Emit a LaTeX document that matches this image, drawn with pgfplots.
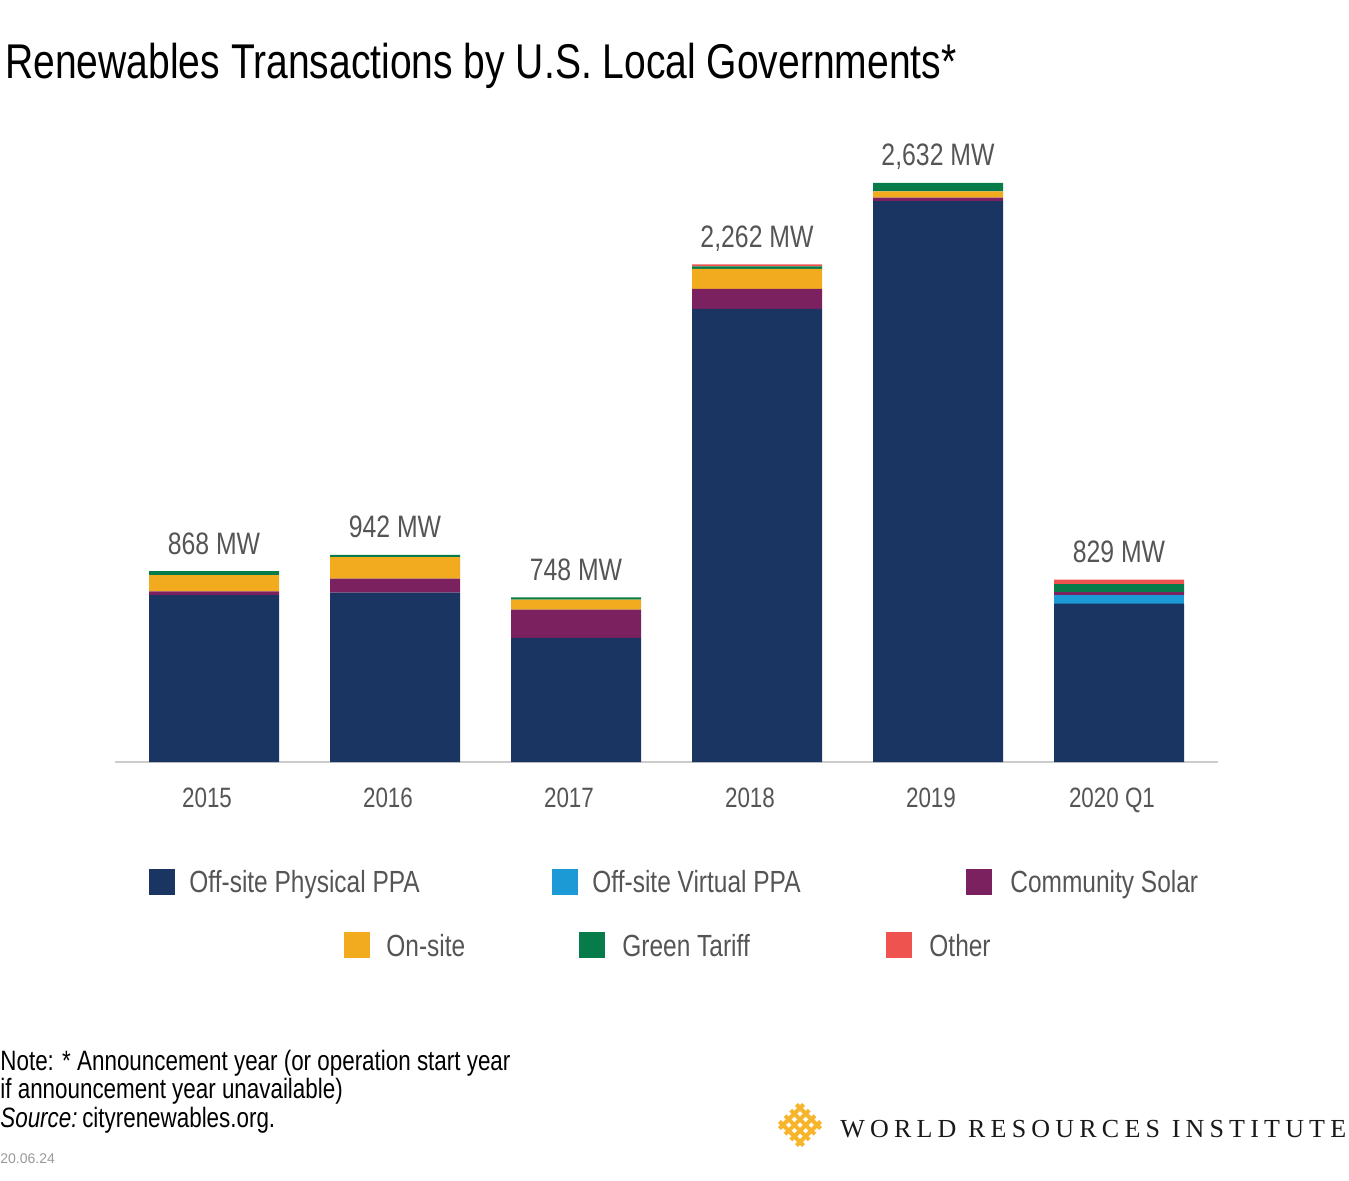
\documentclass[border=0pt]{standalone}
\usepackage{fontspec}
\setmainfont{Liberation Sans}[FakeStretch=0.8]
\newfontfamily\wrifont{Liberation Serif}[LetterSpace=20]
\newfontfamily\datefont{Liberation Sans}
\usepackage{pgfplots}
\pgfplotsset{compat=1.18}
\definecolor{cnavy}{HTML}{1B3563}
\definecolor{cblue}{HTML}{1B9AD5}
\definecolor{cpurple}{HTML}{7B2160}
\definecolor{cyellow}{HTML}{F2AB1F}
\definecolor{cgreen}{HTML}{087B4B}
\definecolor{cred}{HTML}{EF5350}
\definecolor{labgray}{HTML}{555555}
\definecolor{axgray}{HTML}{CCCCCC}
\definecolor{logoyel}{HTML}{F7B52C}
\tikzset{dl/.style={anchor=base, yshift=8.5pt, font=\fontsize{15.5}{17}\selectfont, text=labgray}}
\begin{document}
\begin{tikzpicture}
\useasboundingbox (0,0) rectangle (674.5pt,-590.5pt);
\begin{axis}[
  at={(57.5pt,-381pt)}, anchor=south west,
  scale only axis, width=551.5pt, height=308pt,
  ybar stacked, bar width=65pt,
  xmin=-0.547, xmax=5.547, ymin=0, ymax=2800,
  axis x line*=bottom, axis y line=none,
  axis line style={draw=axgray, line width=0.75pt},
  xtick={0,1,2,3,4,5}, xticklabels={2015,2016,2017,2018,2019,2020 Q1},
  major tick length=0pt,
  xticklabel style={font=\fontsize{14}{16}\selectfont, text=labgray, anchor=base, yshift=-22.5pt, xshift=-3.5pt},
  clip=false,
]
\addplot[fill=cnavy, draw=none] coordinates {(0,758) (1,770) (2,564) (3,2060) (4,2550) (5,720)};
\addplot[fill=cblue, draw=none] coordinates {(0,0) (1,0) (2,0) (3,0) (4,0) (5,37)};
\addplot[fill=cpurple, draw=none] coordinates {(0,18) (1,64) (2,129) (3,91) (4,15) (5,15)};
\addplot[fill=cyellow, draw=none] coordinates {(0,73) (1,97) (2,45) (3,90) (4,29) (5,0)};
\addplot[fill=cgreen, draw=none] coordinates {(0,19) (1,11) (2,10) (3,12) (4,38) (5,37)};
\addplot[fill=cred, draw=none] coordinates {(0,0) (1,0) (2,0) (3,9) (4,0) (5,20)};
\node[dl] at (axis cs:0,868) {868 MW};
\node[dl] at (axis cs:1,942) {942 MW};
\node[dl] at (axis cs:2,748) {748 MW};
\node[dl] at (axis cs:3,2262) {2,262 MW};
\node[dl] at (axis cs:4,2632) {2,632 MW};
\node[dl] at (axis cs:5,829) {829 MW};
\end{axis}
\begin{scope}[x=0.5pt, y=-0.5pt]
\node[anchor=base west, inner sep=0, font=\fontsize{24.4}{28}\selectfont] at (5,79) {Renewables Transactions by U.S. Local Governments*};
% legend
\begin{scope}[every node/.style={anchor=base west, inner sep=0, font=\fontsize{15.3}{17}\selectfont, text=labgray}]
\fill[cnavy] (149,869) rectangle (175,895); \node at (189,892) {Off-site Physical PPA};
\fill[cblue] (552,869) rectangle (578,895); \node at (592,892) {Off-site Virtual PPA};
\fill[cpurple] (966,869) rectangle (992,895); \node at (1010,892) {Community Solar};
\fill[cyellow] (344,932) rectangle (370,958); \node at (386,956) {On-site};
\fill[cgreen] (579,932) rectangle (605,958); \node at (622,956) {Green Tariff};
\fill[cred] (886,932) rectangle (912,958); \node at (929,956) {Other};
\end{scope}
% notes
\begin{scope}[every node/.style={anchor=base west, inner sep=0, font=\fontsize{14}{16}\selectfont}]
\node at (0,1070) {Note: * Announcement year (or operation start year};
\node at (0,1098) {if announcement year unavailable)};
\node at (0,1127) {\textit{Source:}\,cityrenewables.org.};
\end{scope}
\node[anchor=base west, inner sep=0, font=\datefont\fontsize{7}{8}\selectfont, text=black!40] at (0,1163) {20.06.24};
% logo
\begin{scope}[shift={(800,1125)}, rotate=45, line width=2pt]
\foreach \p in {-12,-4,4,12} {
  \draw[logoyel] (\p,-17) -- (\p,17);
  \draw[logoyel] (-17,\p) -- (17,\p);
}
\end{scope}
\node[anchor=base west, inner sep=0, font=\wrifont\fontsize{13}{15}\selectfont, text=black!90] at (840,1137) {WORLD RESOURCES INSTITUTE};
\end{scope}
\end{tikzpicture}
\end{document}
